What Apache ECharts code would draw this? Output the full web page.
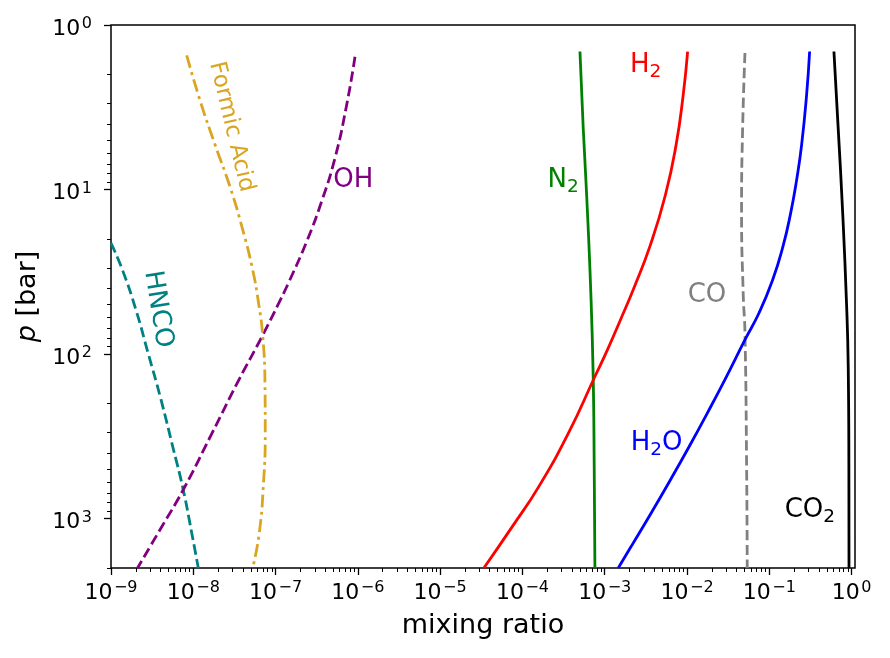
<!DOCTYPE html>
<html>
<head>
<meta charset="utf-8">
<script src="https://cdn.jsdelivr.net/npm/echarts@6/dist/echarts.min.js"></script>
<style>
  html, body { margin: 0; padding: 0; background: #fff; }
  #chart { width: 890px; height: 658px; }
</style>
</head>
<body>
<div id="chart"></div>
<script>
// pressure [bar] / mixing ratio pairs
const co2P = [1.45, 4.24, 13.6, 50, 119, 483, 2000];
const co2X = [0.61, 0.687, 0.778, 0.869, 0.91, 0.927, 0.93];

const h2oP = [1.45, 2.66, 5.35, 8.77, 13.97, 22.28, 35.49, 56.53, 82.1, 143.7, 228.8, 365, 581.2, 925.8, 1477, 2000];
const h2oX = [0.309, 0.284, 0.247, 0.2146, 0.1815, 0.1463, 0.1097, 0.0747, 0.0505, 0.02879, 0.01765, 0.01063, 0.0063, 0.00367, 0.0021, 0.00146];

const coP = [1.48, 4.24, 13.5, 43.6, 74, 484, 2000];
const coX = [0.0506, 0.0474, 0.046, 0.0482, 0.0506, 0.053, 0.0539];

const h2P = [1.45, 2.66, 5.35, 10.8, 21.7, 39.7, 62.1, 94.4, 137, 303, 638, 1117, 2000];
const h2X = [0.01017, 0.00899, 0.00737, 0.00546, 0.00359, 0.002263, 0.001551, 0.001078, 7.6e-4, 3.62e-4, 1.587e-4, 7.56e-5, 3.4e-5];

const n2P = [1.45, 4.24, 10.8, 43.6, 137, 483, 2000];
const n2X = [5.0e-4, 5.48e-4, 6.03e-4, 6.79e-4, 7.24e-4, 7.45e-4, 7.6e-4];

const ohP = [1.56, 3.06, 6.45, 11.8, 20.7, 36.1, 47, 78.4, 144, 303, 669, 1170, 2000];
const ohX = [9.23e-7, 7.31e-7, 5.27e-7, 3.63e-7, 2.39e-7, 1.467e-7, 1.14e-7, 6.84e-8, 3.57e-8, 1.69e-8, 7.55e-9, 3.94e-9, 2.1e-9];

const formicP = [1.53, 2.92, 5.35, 9.81, 17.2, 30, 50, 78.4, 150, 303, 609, 1225, 2000];
const formicX = [8.32e-9, 1.22e-8, 1.84e-8, 2.83e-8, 3.94e-8, 5.21e-8, 6.25e-8, 6.99e-8, 7.43e-8, 7.49e-8, 7.13e-8, 6.34e-8, 5.27e-8];

const hncoP = [21.2, 30.9, 54, 98.5, 185, 382, 659, 1220, 2000];
const hncoX = [1e-9, 1.38e-9, 2.01e-9, 2.82e-9, 4.0e-9, 5.75e-9, 7.5e-9, 9.56e-9, 1.15e-8];

// axis ticks
const xMajor = [1e-9, 1e-8, 1e-7, 1e-6, 1e-5, 1e-4, 1e-3, 1e-2, 1e-1, 1];
const yMajor = [1, 10, 100, 1000];

// species name labels: text, mixing ratio, pressure
const labelText = ['Formic Acid', 'OH', 'HNCO', 'N{s|2}', 'H{s|2}', 'CO', 'H{s|2}O', 'CO{s|2}'];
const labelX = [2.9e-8, 8.79e-7, 3.73e-9, 3.13e-4, 3.14e-3, 0.01746, 4.28e-3, 0.311];
const labelP = [4.16, 8.73, 53.5, 8.73, 1.75, 44.2, 348, 885];

const FONT = 'DejaVu Sans';

function minorTicks(lo, hi) {
  const out = [];
  for (let e = lo; e <= hi; e++) {
    for (let k = 2; k <= 9; k++) out.push(k * Math.pow(10, e));
  }
  return out;
}
const xMinor = minorTicks(-9, -1);
const yMinor = minorTicks(0, 3);

function powLabel(v) {
  const e = Math.round(Math.log10(v));
  return '{b|10}{sup|' + (e < 0 ? '\u2212' + (-e) : e) + '}';
}
const tickRich = {
  b: { fontSize: 22, lineHeight: 24, verticalAlign: 'bottom', fontFamily: FONT, color: '#000' },
  sup: { fontSize: 16, lineHeight: 15, verticalAlign: 'top', padding: [0, 0, 0, 1.5], fontFamily: FONT, color: '#000' }
};

function pairs(xs, ps) {
  return xs.map((x, i) => [x, ps[i]]);
}

function line(name, xs, ps, color, type) {
  return {
    name: name,
    type: 'line',
    data: pairs(xs, ps),
    showSymbol: false,
    smooth: 0.5,
    clip: true,
    silent: true,
    lineStyle: { color: color, width: 2.8, type: type || 'solid', cap: 'butt' }
  };
}

const labelColors = ['#DAA520', '#800080', '#008080', '#008000', '#FF0000', '#808080', '#0000FF', '#000000'];
const labelRotate = [-76.5, 0, -81, 0, 0, 0, 0, 0];
const labelSize = [23, 26, 26, 26, 26, 26, 26, 26];

const chart = echarts.init(document.getElementById('chart'));

const dashed = [10.4, 4.5];
const dashDot = [13, 4.5, 3, 4.5];

chart.setOption({
  animation: false,
  backgroundColor: '#fff',
  grid: {
    left: 111, right: 35, top: 25, bottom: 90,
    show: true, borderColor: '#000', borderWidth: 1.5, backgroundColor: 'transparent'
  },
  xAxis: [{
    type: 'log', logBase: 10, min: 1e-9, max: 1.1, position: 'bottom',
    name: 'mixing ratio', nameLocation: 'middle', nameGap: 44,
    nameTextStyle: { fontSize: 27, fontFamily: FONT, color: '#000' },
    axisLine: { show: false },
    axisTick: { show: true, customValues: xMajor, length: 7, lineStyle: { color: '#000', width: 1.3 } },
    axisLabel: { customValues: xMajor, formatter: powLabel, rich: tickRich, margin: 12 },
    splitLine: { show: false }, minorTick: { show: false }
  }, {
    type: 'log', logBase: 10, min: 1e-9, max: 1.1, position: 'bottom',
    axisLine: { show: false },
    axisTick: { show: true, customValues: xMinor, length: 4, lineStyle: { color: '#000', width: 1 } },
    axisLabel: { show: false },
    splitLine: { show: false }
  }],
  yAxis: [{
    type: 'log', logBase: 10, min: 1, max: 2000, inverse: true, position: 'left',
    name: '{i|p} [bar]', nameLocation: 'middle', nameGap: 68,
    nameTextStyle: {
      fontSize: 27, fontFamily: FONT, color: '#000',
      rich: { i: { fontStyle: 'italic', fontSize: 27, fontFamily: FONT, color: '#000' } }
    },
    axisLine: { show: false },
    axisTick: { show: true, customValues: yMajor, length: 7, lineStyle: { color: '#000', width: 1.3 } },
    axisLabel: { customValues: yMajor, formatter: powLabel, rich: tickRich, margin: 19, padding: [6, 0, 0, 0] },
    splitLine: { show: false }, minorTick: { show: false }
  }, {
    type: 'log', logBase: 10, min: 1, max: 2000, inverse: true, position: 'left',
    axisLine: { show: false },
    axisTick: { show: true, customValues: yMinor, length: 4, lineStyle: { color: '#000', width: 1 } },
    axisLabel: { show: false },
    splitLine: { show: false }
  }],
  series: [
    line('HNCO', hncoX, hncoP, '#008080', dashed),
    line('OH', ohX, ohP, '#800080', dashed),
    line('Formic Acid', formicX, formicP, '#DAA520', dashDot),
    line('N2', n2X, n2P, '#008000'),
    line('H2', h2X, h2P, '#FF0000'),
    line('CO', coX, coP, '#808080', dashed),
    line('H2O', h2oX, h2oP, '#0000FF'),
    line('CO2', co2X, co2P, '#000000'),
    {
      name: 'labels',
      type: 'scatter',
      silent: true,
      symbolSize: 1,
      itemStyle: { color: 'transparent', opacity: 1 },
      data: labelText.map((t, i) => ({
        value: [labelX[i], labelP[i]],
        label: {
          show: true,
          position: 'inside',
          formatter: t,
          rotate: labelRotate[i],
          color: labelColors[i],
          opacity: 1,
          textBorderWidth: 0,
          textBorderColor: 'transparent',
          fontSize: labelSize[i],
          lineHeight: 34,
          fontFamily: FONT,
          rich: {
            s: {
              fontSize: 18.5, lineHeight: 18, verticalAlign: 'bottom', color: labelColors[i],
              textBorderWidth: 0, fontFamily: FONT
            }
          }
        }
      }))
    }
  ]
});
</script>
</body>
</html>
